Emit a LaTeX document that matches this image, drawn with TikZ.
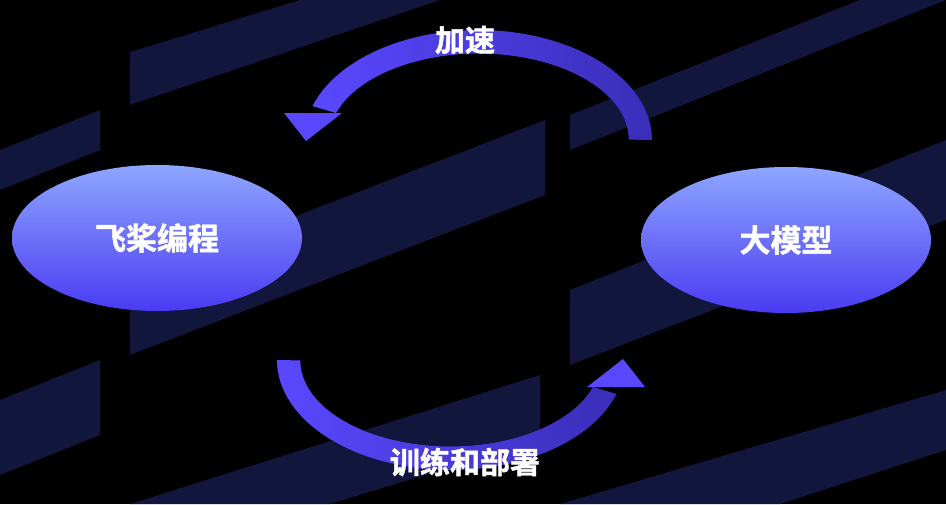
\documentclass[tikz,border=0pt]{standalone}
\usepackage{fontspec}
\newfontfamily\cjk{Noto Sans CJK SC Bold}[FakeBold=1.5]
\begin{document}
\begin{tikzpicture}[x=1pt,y=-1pt,
  ell/.style={ellipse,minimum width=290pt,minimum height=146pt,top color=ellTop,bottom color=ellBot,draw=none,text=white,font=\cjk\fontsize{31}{34}\selectfont},
  lab/.style={text=white,font=\cjk\fontsize{30}{32}\selectfont},
  band/.style={left color=bandA,right color=bandB,draw=none}]
\usetikzlibrary{shapes.geometric}
\definecolor{stripe}{HTML}{12163C}
\definecolor{ellTop}{HTML}{8EA6FF}
\definecolor{ellBot}{HTML}{4A3BF2}
\definecolor{bandA}{HTML}{5A48FF}
\definecolor{bandB}{HTML}{3A2DB8}
\fill[black] (0,0) rectangle (946,504);
\fill[stripe] (130,105)--(130,52)--(300,0)--(440,0)--cycle;
\fill[stripe] (130,355)--(545,195)--(545,120)--(130,280)--cycle;
\fill[stripe] (570,365)--(946,220)--(946,140)--(570,290)--cycle;
\fill[stripe] (570,115)--(860,0)--(946,0)--(570,150)--cycle;
\fill[stripe] (0,190)--(100,150)--(100,110)--(0,150)--cycle;
\fill[stripe] (0,400)--(100,360)--(100,435)--(0,475)--cycle;
\fill[stripe] (130,504)--(540,375)--(540,440)--(330,504)--cycle;
\fill[stripe] (560,504)--(946,390)--(946,450)--(780,504)--cycle;
\node[ell] (L) at (157,238) {飞桨编程};
\node[ell] (R) at (786,240) {大模型};
\begin{scope}
 \fill[band] (652,140) arc[start angle=0,end angle=-162,x radius=174,y radius=110]
   -- (336,113) arc[start angle=-162,end angle=0,x radius=150,y radius=86] -- cycle;
 \fill[bandA] (284,113)--(342,113)--(306,141)--cycle;
\end{scope}
\begin{scope}[rotate around={180:(464.5,250)}]
 \fill[band] (652,140) arc[start angle=0,end angle=-162,x radius=174,y radius=110]
   -- (336,113) arc[start angle=-162,end angle=0,x radius=150,y radius=86] -- cycle;
 \fill[bandA] (284,113)--(342,113)--(306,141)--cycle;
\end{scope}
\node[lab] (t1) at (465,40) {加速};
\node[lab] (t2) at (465,462) {训练和部署};
\end{tikzpicture}
\end{document}
